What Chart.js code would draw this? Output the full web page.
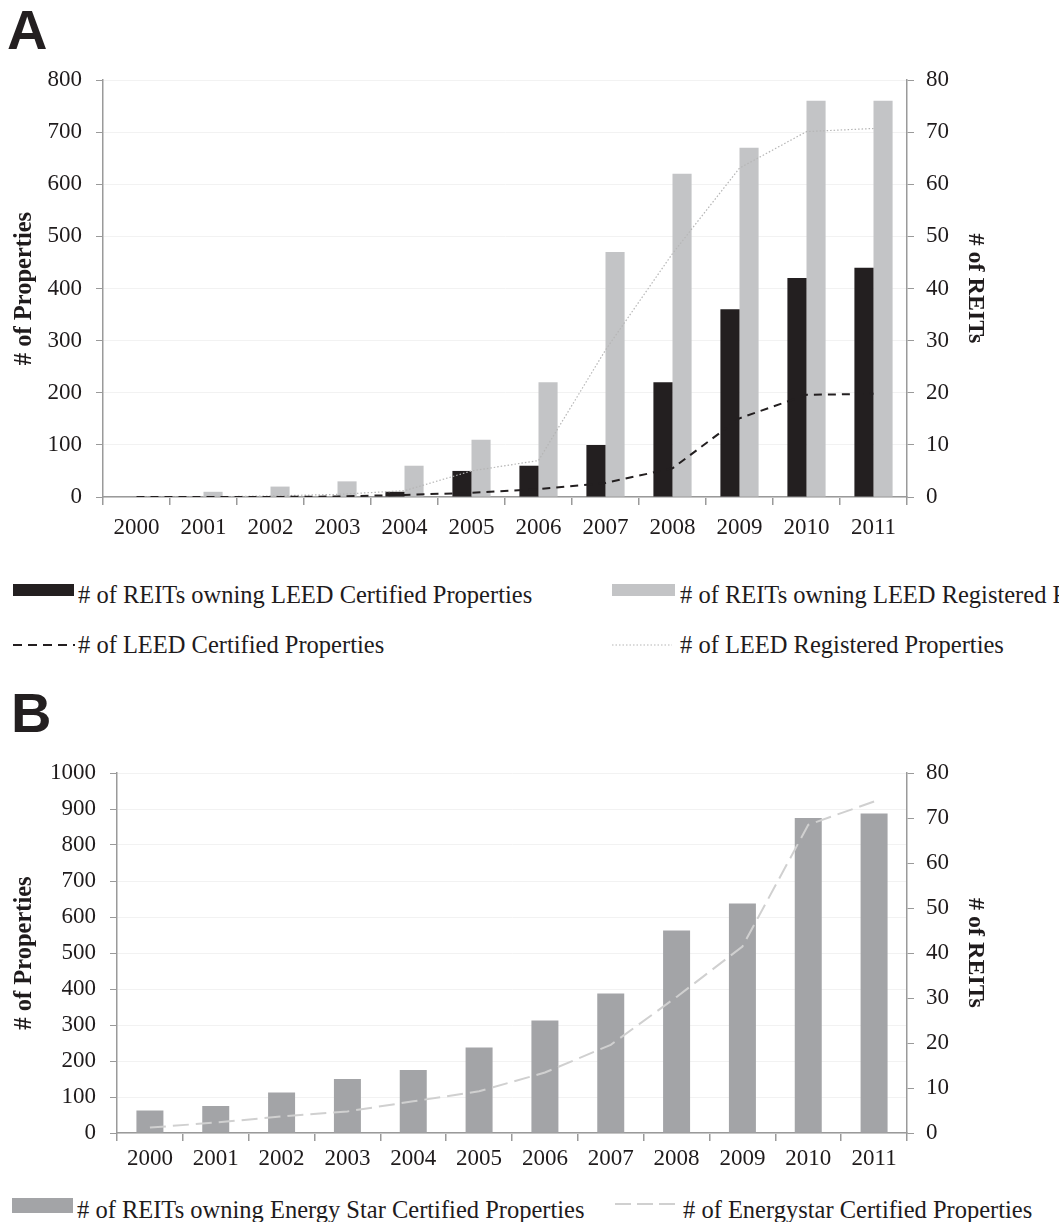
<!DOCTYPE html>
<html>
<head>
<meta charset="utf-8">
<script src="https://cdn.jsdelivr.net/npm/chart.js@4.4.1/dist/chart.umd.min.js"></script>
<style>
  html, body { margin: 0; padding: 0; background: #fff; }
  body { width: 1059px; height: 1222px; position: relative; overflow: hidden; }
  canvas { position: absolute; left: 0; }
  .panel-label { position: absolute; font-family: "Liberation Sans", Arial, sans-serif; font-weight: bold; font-size: 56px; line-height: 56px; color: #231f20; }
  .legend-text { position: absolute; font-family: "Liberation Serif", "Times New Roman", serif; font-size: 24.5px; line-height: 28px; color: #1f1b1c; white-space: nowrap; }
  .swatch { position: absolute; }
  svg.key { position: absolute; overflow: visible; }
</style>
</head>
<body>
<div class="panel-label" style="left:7px; top:2px;">A</div>
<canvas id="chartA" width="1059" height="500" style="top:50px;"></canvas>

<div class="swatch" style="left:13px; top:584px; width:61px; height:12px; background:#231f20;"></div>
<div class="legend-text" style="left:78px; top:581px;"># of REITs owning LEED Certified Properties</div>
<div class="swatch" style="left:612px; top:584px; width:63px; height:12px; background:#c3c4c6;"></div>
<div class="legend-text" style="left:680px; top:581px;"># of REITs owning LEED Registered Properties</div>
<svg class="key" style="left:13px; top:640px;" width="62" height="10"><line x1="0" y1="5" x2="62" y2="5" stroke="#231f20" stroke-width="2" stroke-dasharray="9,6"/></svg>
<div class="legend-text" style="left:78px; top:631px;"># of LEED Certified Properties</div>
<svg class="key" style="left:612px; top:640px;" width="60" height="10"><line x1="0" y1="5" x2="60" y2="5" stroke="#b5b5b5" stroke-width="1.2" stroke-dasharray="1.5,2"/></svg>
<div class="legend-text" style="left:680px; top:631px;"># of LEED Registered Properties</div>

<div class="panel-label" style="left:11px; top:685px;">B</div>
<canvas id="chartB" width="1059" height="460" style="top:730px;"></canvas>

<div class="swatch" style="left:12px; top:1198px; width:61px; height:15px; background:#a3a4a7;"></div>
<div class="legend-text" style="left:77px; top:1196px;"># of REITs owning Energy Star Certified Properties</div>
<svg class="key" style="left:615px; top:1199px;" width="64" height="10"><line x1="0" y1="5" x2="64" y2="5" stroke="#d0d0d0" stroke-width="2" stroke-dasharray="16,6"/></svg>
<div class="legend-text" style="left:683px; top:1196px;"># of Energystar Certified Properties</div>

<script>
// years on the x axis (both panels)
const years = ["2000", "2001", "2002", "2003", "2004", "2005", "2006", "2007", "2008", "2009", "2010", "2011"];

// panel A - bars on right axis (# of REITs), lines on left axis (# of properties)
const reitsLeedCertified = [0, 0, 0, 0, 1, 5, 6, 10, 22, 36, 42, 44];
const reitsLeedRegistered = [0, 1, 2, 3, 6, 11, 22, 47, 62, 67, 76, 76];
const leedCertifiedProps = [0, 0, 0, 1, 4, 8, 15, 27, 55, 151, 196, 198];
const leedRegisteredProps = [0, 0, 2, 5, 12, 50, 70, 282, 467, 631, 701, 707];

// panel B
const reitsEnergyStar = [5, 6, 9, 12, 14, 19, 25, 31, 45, 51, 70, 71];
const energyStarProps = [15, 29, 46, 60, 88, 116, 168, 245, 378, 518, 856, 921];

// axis ranges / steps
const propsMaxA = 800, propsStepA = 100;
const propsMaxB = 1000, propsStepB = 100;
const reitsMax = 80, reitsStep = 10;

const serif = "'Liberation Serif', 'Times New Roman', serif";
const axisGray = "#9a9a9a";
const textColor = "#1f1b1c";

function buildScales(opts) {
  return {
    x: {
      type: "category",
      offset: true,
      grid: {
        offset: true,
        drawOnChartArea: false,
        color: axisGray,
        tickLength: 8,
        lineWidth: 1.5,
      },
      border: { color: axisGray, width: 1.5 },
      ticks: {
        color: textColor,
        padding: opts.xPad,
        font: { family: serif, size: 23 },
        maxRotation: 0,
      },
      afterFit(scale) {
        scale.height = opts.xHeight;
      },
    },
    y: {
      position: "left",
      min: 0,
      max: opts.propsMax,
      ticks: {
        stepSize: opts.propsStep,
        color: textColor,
        padding: 14,
        font: { family: serif, size: 23 },
        callback: (v) => String(v),
      },
      grid: {
        color: "#f2f2f2",
        tickColor: axisGray,
        tickLength: 7,
      },
      border: { color: axisGray, width: 1.5 },
      title: {
        display: true,
        text: "# of Properties",
        color: textColor,
        font: { family: serif, size: 24.5, weight: "bold" },
        padding: { top: 10, bottom: 0 },
      },
      afterFit(scale) {
        scale.width = opts.leftWidth;
      },
    },
    y1: {
      position: "right",
      min: 0,
      max: reitsMax,
      ticks: {
        stepSize: reitsStep,
        color: textColor,
        padding: 12,
        font: { family: serif, size: 23 },
        callback: (v) => String(v),
      },
      grid: {
        drawOnChartArea: false,
        tickColor: axisGray,
        tickLength: 7,
      },
      border: { color: axisGray, width: 1.5 },
      title: {
        display: true,
        text: "# of REITs",
        color: textColor,
        font: { family: serif, size: 24, weight: "bold" },
        padding: { top: 69, bottom: 0 },
      },
      afterFit(scale) {
        scale.width = 152;
      },
    },
  };
}

new Chart(document.getElementById("chartA"), {
  type: "bar",
  data: {
    labels: years,
    datasets: [
      {
        type: "line",
        label: "# of LEED Certified Properties",
        data: leedCertifiedProps,
        yAxisID: "y",
        borderColor: "#231f20",
        borderWidth: 2,
        borderDash: [8, 6],
        pointRadius: 0,
        fill: false,
        order: 0,
      },
      {
        type: "line",
        label: "# of LEED Registered Properties",
        data: leedRegisteredProps,
        yAxisID: "y",
        borderColor: "#b5b5b5",
        borderWidth: 1.2,
        borderDash: [1.5, 2],
        pointRadius: 0,
        fill: false,
        order: 0,
      },
      {
        label: "# of REITs owning LEED Certified Properties",
        data: reitsLeedCertified,
        yAxisID: "y1",
        backgroundColor: "#231f20",
        categoryPercentage: 0.57,
        barPercentage: 1.0,
        order: 1,
      },
      {
        label: "# of REITs owning LEED Registered Properties",
        data: reitsLeedRegistered,
        yAxisID: "y1",
        backgroundColor: "#c3c4c6",
        categoryPercentage: 0.57,
        barPercentage: 1.0,
        order: 1,
      },
    ],
  },
  options: {
    responsive: false,
    animation: false,
    layout: { padding: { top: 30, left: 0, right: 0, bottom: 0 } },
    plugins: { legend: { display: false }, tooltip: { enabled: false } },
    scales: buildScales({ propsMax: propsMaxA, propsStep: propsStepA, leftWidth: 103, xHeight: 53, xPad: 9 }),
  },
});

new Chart(document.getElementById("chartB"), {
  type: "bar",
  data: {
    labels: years,
    datasets: [
      {
        type: "line",
        label: "# of Energystar Certified Properties",
        data: energyStarProps,
        yAxisID: "y",
        borderColor: "#d0d0d0",
        borderWidth: 2,
        borderDash: [16, 7],
        pointRadius: 0,
        fill: false,
        order: 0,
      },
      {
        label: "# of REITs owning Energy Star Certified Properties",
        data: reitsEnergyStar,
        yAxisID: "y1",
        backgroundColor: "#a3a4a7",
        categoryPercentage: 0.41,
        barPercentage: 1.0,
        order: 1,
      },
    ],
  },
  options: {
    responsive: false,
    animation: false,
    layout: { padding: { top: 43, left: 0, right: 0, bottom: 0 } },
    plugins: { legend: { display: false }, tooltip: { enabled: false } },
    scales: buildScales({ propsMax: propsMaxB, propsStep: propsStepB, leftWidth: 117, xHeight: 57, xPad: 4 }),
  },
});
</script>
</body>
</html>
